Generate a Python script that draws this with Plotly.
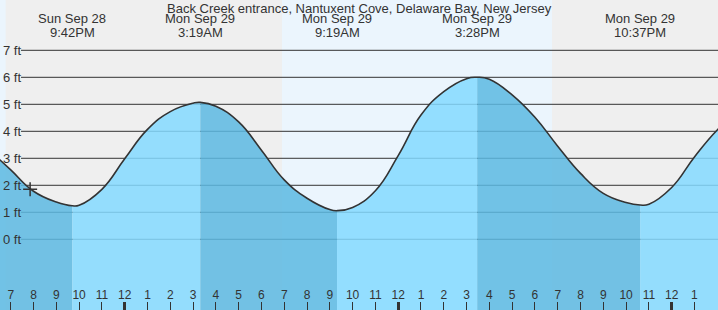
import plotly.graph_objects as go

# ---------------- data ----------------
title_text = "Back Creek entrance, Nantuxent Cove, Delaware Bay, New Jersey"

curve_times = [
    "2025-09-28 18:00", "2025-09-28 19:00", "2025-09-28 20:00", "2025-09-28 21:00",
    "2025-09-28 21:42", "2025-09-28 22:00", "2025-09-28 23:00", "2025-09-29 00:00",
    "2025-09-29 01:00", "2025-09-29 02:00", "2025-09-29 03:00", "2025-09-29 03:19",
    "2025-09-29 04:00", "2025-09-29 05:00", "2025-09-29 06:00", "2025-09-29 07:00",
    "2025-09-29 08:00", "2025-09-29 09:00", "2025-09-29 09:19", "2025-09-29 10:00",
    "2025-09-29 11:00", "2025-09-29 12:00", "2025-09-29 13:00", "2025-09-29 14:00",
    "2025-09-29 15:00", "2025-09-29 15:28", "2025-09-29 16:00", "2025-09-29 17:00",
    "2025-09-29 18:00", "2025-09-29 19:00", "2025-09-29 20:00", "2025-09-29 21:00",
    "2025-09-29 22:00", "2025-09-29 22:37", "2025-09-29 23:00", "2025-09-30 00:00",
    "2025-09-30 01:00", "2025-09-30 02:00", "2025-09-30 03:00",
]
curve_heights = [
    3.35, 2.57, 1.78, 1.38,
    1.24, 1.26, 1.85, 2.98,
    4.07, 4.73, 5.04, 5.07,
    4.93, 4.35, 3.30, 2.20,
    1.52, 1.10, 1.06, 1.18,
    1.80, 3.10, 4.60, 5.47,
    5.95, 6.00, 5.93, 5.35,
    4.52, 3.45, 2.44, 1.70,
    1.36, 1.27, 1.30, 1.92,
    3.05, 4.05, 4.80,
]

extreme_times = ["2025-09-28 21:42", "2025-09-29 03:19", "2025-09-29 09:19",
                 "2025-09-29 15:28", "2025-09-29 22:37"]
extreme_dates = ["Sun Sep 28", "Mon Sep 29", "Mon Sep 29", "Mon Sep 29", "Mon Sep 29"]
extreme_clock = ["9:42PM", "3:19AM", "9:19AM", "3:28PM", "10:37PM"]

sun_events = ["2025-09-28 18:47", "2025-09-29 06:54", "2025-09-29 18:45"]  # sunset, sunrise, sunset
now_time = ["2025-09-28 19:51"]
now_height = [1.85]

ft_levels = [0, 1, 2, 3, 4, 5, 6, 7]
ft_labels = ["0 ft", "1 ft", "2 ft", "3 ft", "4 ft", "5 ft", "6 ft", "7 ft"]
major_ticks = ["2025-09-29 00:00", "2025-09-29 12:00", "2025-09-30 00:00"]

x_range = ["2025-09-28 18:31:42", "2025-09-30 02:01:59"]
y_range = [-2.619, 8.863]

# ---------------- styles ----------------
NIGHT = "#efefef"
DAY = "#ebf5fd"
LIGHT_FILL = "rgba(132,217,255,0.85)"
DARK_FILL = "rgba(92,184,226,0.85)"
INK = "#333333"
FONT = "Liberation Sans, Arial, sans-serif"
SMOOTH = 1.3

fig = go.Figure()

# split curve into segments at extremes
idx = [curve_times.index(t) for t in extreme_times]
bounds = [0] + idx + [len(curve_times) - 1]
base = y_range[0] - 0.5
for a, b in zip(bounds[:-1], bounds[1:]):
    xs = curve_times[a:b + 1]
    ys = curve_heights[a:b + 1]
    color = DARK_FILL if ys[-1] < ys[0] else LIGHT_FILL
    fig.add_trace(go.Scatter(x=[xs[0], xs[-1]], y=[base, base], mode="lines",
                             line=dict(width=0), hoverinfo="skip", showlegend=False))
    fig.add_trace(go.Scatter(x=xs, y=ys, mode="lines", fill="tonexty", fillcolor=color,
                             line=dict(width=0, shape="spline", smoothing=SMOOTH),
                             hoverinfo="skip", showlegend=False))

# outline
fig.add_trace(go.Scatter(x=curve_times, y=curve_heights, mode="lines",
                         line=dict(color=INK, width=1.6, shape="spline", smoothing=SMOOTH),
                         hoverinfo="skip", showlegend=False))
# current marker
fig.add_trace(go.Scatter(x=now_time, y=now_height, mode="markers",
                         marker=dict(symbol="cross-thin", size=10,
                                     line=dict(color=INK, width=1.5)),
                         hoverinfo="skip", showlegend=False))
# dummy trace for second x axis (major ticks)
fig.add_trace(go.Scatter(x=[major_ticks[0]], y=[None], xaxis="x2", mode="markers",
                         showlegend=False, hoverinfo="skip"))

shapes = []
shapes.append(dict(type="rect", xref="x", yref="paper", x0=x_range[0], x1=sun_events[0],
                   y0=0, y1=1, fillcolor=DAY, line=dict(width=0), layer="below"))
shapes.append(dict(type="rect", xref="x", yref="paper", x0=sun_events[0], x1=sun_events[1],
                   y0=0, y1=1, fillcolor=NIGHT, line=dict(width=0), layer="below"))
shapes.append(dict(type="rect", xref="x", yref="paper", x0=sun_events[1], x1=sun_events[2],
                   y0=0, y1=1, fillcolor=DAY, line=dict(width=0), layer="below"))
shapes.append(dict(type="rect", xref="x", yref="paper", x0=sun_events[2], x1=x_range[1],
                   y0=0, y1=1, fillcolor=NIGHT, line=dict(width=0), layer="below"))
for lv in ft_levels:
    shapes.append(dict(type="line", xref="paper", yref="y", x0=21 / 718, x1=1,
                       y0=lv, y1=lv, line=dict(color=INK, width=1), layer="below"))

annotations = [dict(text=title_text, xref="paper", yref="paper", x=0.5, y=1 - 8.5 / 310,
                    xanchor="center", yanchor="middle", showarrow=False,
                    font=dict(family=FONT, size=13, color=INK))]
for t, d, c in zip(extreme_times, extreme_dates, extreme_clock):
    annotations.append(dict(text=d, xref="x", yref="paper", x=t, y=1 - 19 / 310,
                            xanchor="center", yanchor="middle", showarrow=False,
                            font=dict(family=FONT, size=13, color=INK)))
    annotations.append(dict(text=c, xref="x", yref="paper", x=t, y=1 - 32.5 / 310,
                            xanchor="center", yanchor="middle", showarrow=False,
                            font=dict(family=FONT, size=13, color=INK)))
for lv, lab in zip(ft_levels, ft_labels):
    annotations.append(dict(text=lab, xref="paper", yref="y", x=0.5 / 718, y=lv,
                            xanchor="left", yanchor="middle", showarrow=False,
                            font=dict(family=FONT, size=13, color=INK)))

fig.update_layout(
    width=718, height=310,
    margin=dict(l=0, r=0, t=0, b=0, pad=0),
    paper_bgcolor=NIGHT, plot_bgcolor=NIGHT,
    shapes=shapes, annotations=annotations,
    showlegend=False,
    xaxis=dict(type="date", range=x_range, showgrid=False, zeroline=False, showline=False,
               ticks="inside", ticklen=8, tickwidth=1, tickcolor=INK,
               tick0="2025-09-28 00:00", dtick=3600000, tickformat="%-I",
               ticklabelposition="inside",
               tickfont=dict(family=FONT, size=12, color=INK)),
    xaxis2=dict(type="date", range=x_range, overlaying="x", side="bottom",
                showgrid=False, zeroline=False, showline=False,
                tickmode="array", tickvals=major_ticks, showticklabels=False,
                ticks="inside", ticklen=8, tickwidth=3, tickcolor=INK),
    yaxis=dict(range=y_range, showgrid=False, zeroline=False, showline=False,
               showticklabels=False, ticks=""),
)

fig.write_html("out.html")
